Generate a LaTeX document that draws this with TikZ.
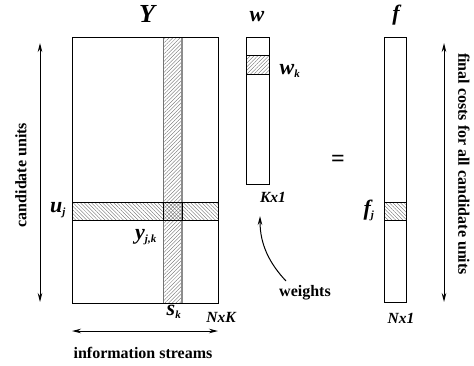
\documentclass[tikz,border=0pt]{standalone}
\usepackage{fontspec}
\setmainfont{Liberation Serif}
\usetikzlibrary{patterns.meta,arrows.meta}
\tikzset{
  box/.style={draw, line width=1.1pt, inner sep=0pt, anchor=north west},
  hatchNE/.style={pattern={Lines[angle=45,distance=2.6pt,line width=0.35pt]}, pattern color=black!60},
  hatchNW/.style={pattern={Lines[angle=-45,distance=2.6pt,line width=0.35pt]}, pattern color=black!60},
  dbl/.style={line width=1pt, {Stealth[length=9pt,width=4.5pt]}-{Stealth[length=9pt,width=4.5pt]}},
  big/.style={font=\fontsize{26}{26}\selectfont\bfseries\itshape, inner sep=0pt},
  lab/.style={font=\fontsize{22}{22}\selectfont\bfseries\itshape, inner sep=0pt},
  dim/.style={font=\fontsize{15.5}{15.5}\selectfont\bfseries\itshape, inner sep=0pt},
  txt/.style={font=\fontsize{16}{16}\selectfont\bfseries, inner sep=0pt},
}
\newcommand{\sbx}[1]{\textsubscript{\fontsize{11}{11}\selectfont #1}}
\begin{document}
\begin{tikzpicture}[x=1pt,y=-1pt]
\useasboundingbox (0,0) rectangle (474,365);
% hatched regions
\fill[white] (72,37) rectangle (218,303);
\path[hatchNE] (163,37) rectangle (182,303);
\path[hatchNW] (72,202) rectangle (218,220);
\path[hatchNE] (246,55) rectangle (269,74);
\path[hatchNW] (384,202) rectangle (406,220);
% column edges
\draw[black!55, line width=0.9pt] (163,37) -- (163,303);
\draw[black!45, line width=1.3pt] (182,37) -- (182,303);
\draw[line width=0.9pt] (72,202) -- (218,202) (72,220) -- (218,220);
\draw[line width=0.5pt] (246,55) -- (269,55) (246,74) -- (269,74);
\draw[line width=0.7pt] (384,202) -- (406,202) (384,220) -- (406,220);
% boxes
\node[box, minimum width=146pt, minimum height=266pt] (Y) at (72,37) {};
\node[draw, line width=1.4pt, inner sep=0pt, minimum width=19pt, minimum height=18pt, anchor=north west] (yjk) at (163,202) {};
\node[box, minimum width=23pt, minimum height=147pt] (w) at (246,37) {};
\node[box, minimum width=22pt, minimum height=265pt] (f) at (384,37) {};
% labels
\node[big] (Ylab) at (147,14) {Y};
\node[lab] (wlab) at (257,17) {w};
\node[lab] (flab) at (396,15) {f};
\node[lab] (uj) at (58,210) {u\sbx{j}};
\node[lab] (yjklab) at (146,237) {y\sbx{j,k}};
\node[lab] (sk) at (174,312) {s\sbx{k}};
\node[lab] (wk) at (290,71) {w\sbx{k}};
\node[lab] (fj) at (369,210) {f\sbx{j}};
\node[dim] (NxK) at (221,317) {NxK};
\node[dim] (Kx1) at (273,197) {Kx1};
\node[dim] (Nx1) at (401,318) {Nx1};
\node[txt] (weights) at (305,293) {weights};
\node[font=\fontsize{24}{24}\selectfont\bfseries, inner sep=0pt] (eq) at (338,161) {=};
\node[txt, rotate=90] (cu) at (21,175) {candidate units};
\node[txt, rotate=-90] (fc) at (464,164) {final costs for all candidate units};
\node[txt] (is) at (143,353) {information streams};
% arrows
\coordinate (a1) at (40,43); \coordinate (a2) at (40,302);
\draw[dbl] (a1) -- (a2);
\coordinate (b1) at (72,331); \coordinate (b2) at (218,331);
\draw[dbl] (b1) -- (b2);
\coordinate (c1) at (444,43); \coordinate (c2) at (444,302);
\draw[dbl] (c1) -- (c2);
\coordinate (d1) at (286,281); \coordinate (d2) at (260,216);
\draw[line width=1pt, -{Stealth[length=9pt,width=4.5pt]}] (d1) .. controls (270,264) and (260,245) .. (d2);
\end{tikzpicture}
\end{document}
